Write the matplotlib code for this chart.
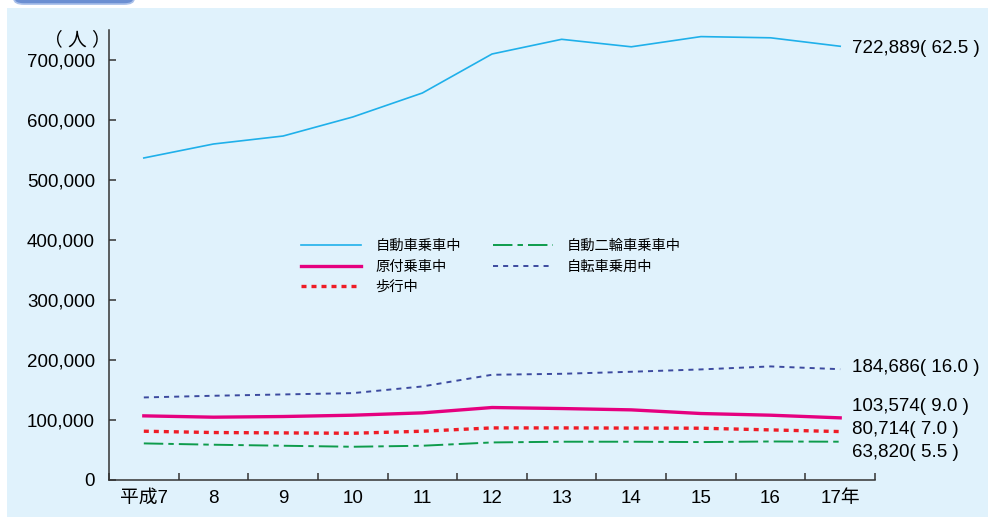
import matplotlib.pyplot as plt
from matplotlib.patches import FancyBboxPatch, Rectangle

plt.rcParams['font.family'] = ['Liberation Sans', 'Noto Sans CJK JP']
plt.rcParams['axes.unicode_minus'] = False

# 状態別死傷者数の推移（平成7～17年）
years = ['平成7', '8', '9', '10', '11', '12', '13', '14', '15', '16', '17年']
car = [536700, 560000, 573300, 605000, 645000, 710000, 734500, 722000, 739000, 737000, 722889]
moped = [106900, 104700, 105800, 108000, 111900, 120800, 119100, 116900, 110800, 108000, 103574]
walk = [81300, 79100, 78500, 77900, 81300, 86800, 86800, 86500, 86300, 83500, 80714]
moto = [61000, 58800, 57100, 55400, 57100, 62600, 63800, 63800, 63200, 64200, 63820]
bike = [137600, 140400, 142600, 144800, 155900, 175400, 177000, 180400, 184300, 189300, 184686]
shares = [62.5, 9.0, 7.0, 5.5, 16.0]

bg = '#e0f2fc'
fig = plt.figure(figsize=(9.88, 5.17), dpi=100, facecolor='white')

# light blue panel and the tab above it
fig.patches.append(Rectangle((7 / 988, 0), 1, 1 - 8 / 517, transform=fig.transFigure,
                             facecolor=bg, edgecolor='none', zorder=-10))
fig.patches.append(FancyBboxPatch((18 / 988, 1 - 2 / 517), 112 / 988, 20 / 517,
                                  boxstyle='round,pad=0.004,rounding_size=0.01',
                                  transform=fig.transFigure, facecolor='#6b8fd2',
                                  edgecolor='#a9c0ea', linewidth=1.2, zorder=-9))

ax = fig.add_axes([109 / 988, 37 / 517, 766 / 988, 450 / 517])
ax.set_facecolor('none')

x = list(range(len(years)))
ax.plot(x, car, color='#1fb0ea', lw=1.2, label='自動車乗車中')
ax.plot(x, moped, color='#e5007f', lw=2.4, label='原付乗車中')
ax.plot(x, walk, color='#ee1c25', lw=2.4, linestyle=(0, (1.5, 1.5)), label='歩行中')
ax.plot(x, moto, color='#0e9c4c', lw=1.4, linestyle=(0, (10, 2.6, 2.8, 2.6)), label='自動二輪車乗車中')
ax.plot(x, bike, color='#3c4a9f', lw=1.4, linestyle=(0, (2.6, 2.6)), label='自転車乗用中')

ax.set_xlim(-0.5, 10.5)
ax.set_ylim(0, 750000)

ax.set_xticks(x)
ax.set_xticklabels(years)
ax.set_xticks([i - 0.5 for i in range(len(years) + 1)], minor=True)
ax.tick_params(axis='x', which='major', length=0, pad=7, labelsize=13.5)
ax.tick_params(axis='x', which='minor', direction='in', length=5, width=1.1, color='#333333')

ax.set_yticks(range(0, 700001, 100000))
ax.set_yticklabels([f'{v:,}' for v in range(0, 700001, 100000)])
ax.tick_params(axis='y', direction='in', length=5, width=1.1, color='#333333', pad=10, labelsize=13.5)

for side in ['top', 'right']:
    ax.spines[side].set_visible(False)
for side in ['left', 'bottom']:
    ax.spines[side].set_color('#333333')
    ax.spines[side].set_linewidth(1.1)

fig.text(77 / 988, 1 - 40 / 517, '（ 人 ）', ha='center', va='center', fontsize=13.5)

# end-of-line labels: count and share (%)
series = [car, moped, walk, moto, bike]
offsets = [-2, 11, 2, -11, 2]
for vals, share, dy in zip(series, shares, offsets):
    ax.annotate(f'{vals[-1]:,}( {share:.1f} )', xy=(x[-1], vals[-1]),
                xytext=(12, dy), textcoords='offset pixels',
                ha='left', va='center', fontsize=13.5, annotation_clip=False)

ax.legend(loc='upper left', bbox_to_anchor=(185 / 766, 1 - 202 / 450), ncol=2,
          frameon=False, fontsize=10.3, handlelength=4.2, handletextpad=1.0,
          columnspacing=2.2, labelspacing=0.45, borderpad=0)

fig.savefig('out.png', dpi=100, facecolor='white')
